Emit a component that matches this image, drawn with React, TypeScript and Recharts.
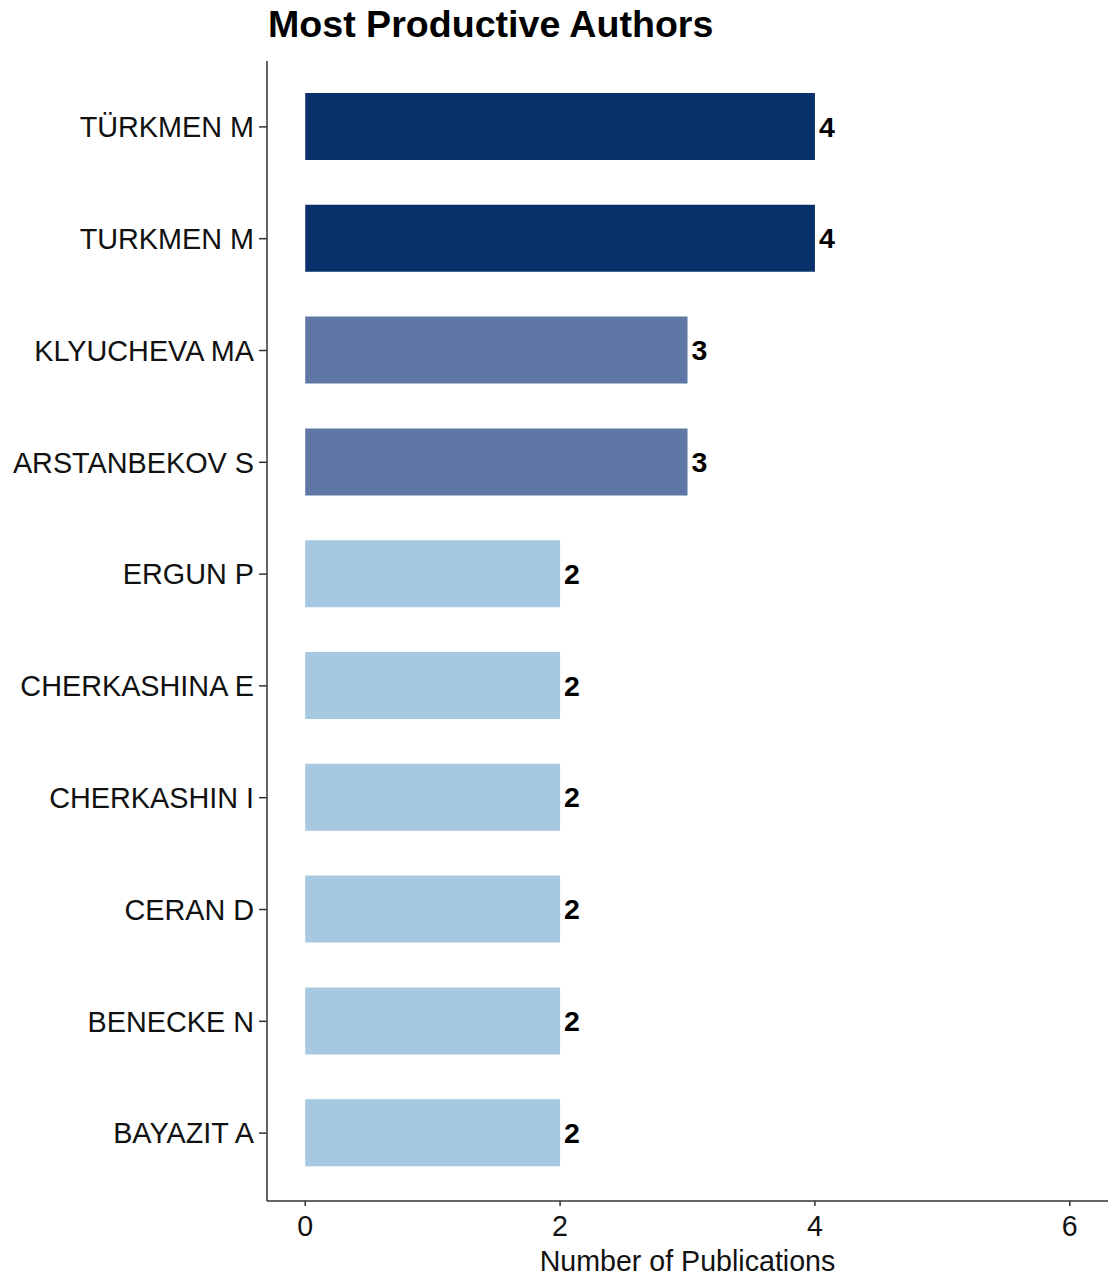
import React from 'react';
import { BarChart, Bar, XAxis, YAxis, Cell, LabelList } from 'recharts';

const authors = [
  'TÜRKMEN M',
  'TURKMEN M',
  'KLYUCHEVA MA',
  'ARSTANBEKOV S',
  'ERGUN P',
  'CHERKASHINA E',
  'CHERKASHIN I',
  'CERAN D',
  'BENECKE N',
  'BAYAZIT A',
];
const publications = [4, 4, 3, 3, 2, 2, 2, 2, 2, 2];
const xTicks = [0, 2, 4, 6];

// fill shade by publication count
const shadeByCount: Record<number, string> = {
  4: '#08306B',
  3: '#5F77A5',
  2: '#A6C8E1',
};

const data = authors.map((name, i) => ({ name, count: publications[i] }));

const FONT = '"Liberation Sans", Arial, sans-serif';

const App: React.FC = () => {
  return (
    <div style={{ position: 'absolute', left: 0, top: 0, width: 1108, height: 1285, fontFamily: FONT }}>
      <div
        style={{
          position: 'absolute',
          left: 268,
          top: 6,
          fontSize: 37.6,
          lineHeight: '37px',
          fontWeight: 'bold',
          color: '#000',
          whiteSpace: 'nowrap',
        }}
      >
        Most Productive Authors
      </div>
      <BarChart
        width={1108}
        height={1285}
        data={data}
        layout="vertical"
        margin={{ top: 61, right: 0, left: 0, bottom: 0 }}
        barCategoryGap={0}
      >
        <XAxis
          type="number"
          dataKey="count"
          domain={[-0.3, 6.3]}
          ticks={xTicks}
          allowDataOverflow
          height={84}
          tickSize={5}
          tickMargin={10}
          axisLine={{ stroke: '#333', strokeWidth: 1.5 }}
          tickLine={{ stroke: '#333', strokeWidth: 1.5 }}
          tick={{ fontSize: 28.6, fill: '#111', fontFamily: FONT }}
          label={{
            value: 'Number of Publications',
            position: 'insideBottom',
            offset: 14,
            style: { fontSize: 28.6, fill: '#111', fontFamily: FONT },
          }}
        />
        <YAxis
          type="category"
          dataKey="name"
          width={267}
          padding={{ top: 10, bottom: 12 }}
          tickSize={8}
          tickMargin={5}
          axisLine={{ stroke: '#333', strokeWidth: 1.5 }}
          tickLine={{ stroke: '#333', strokeWidth: 1.5 }}
          tick={{ fontSize: 28.8, fill: '#111', fontFamily: FONT }}
          interval={0}
        />
        <Bar dataKey="count" barSize={67} isAnimationActive={false}>
          {data.map((d, i) => (
            <Cell key={`cell-${i}`} fill={shadeByCount[d.count]} />
          ))}
          <LabelList
            dataKey="count"
            position="right"
            offset={4}
            style={{ fontSize: 28.5, fontWeight: 'bold', fill: '#000', fontFamily: FONT }}
          />
        </Bar>
      </BarChart>
    </div>
  );
};

export default App;
